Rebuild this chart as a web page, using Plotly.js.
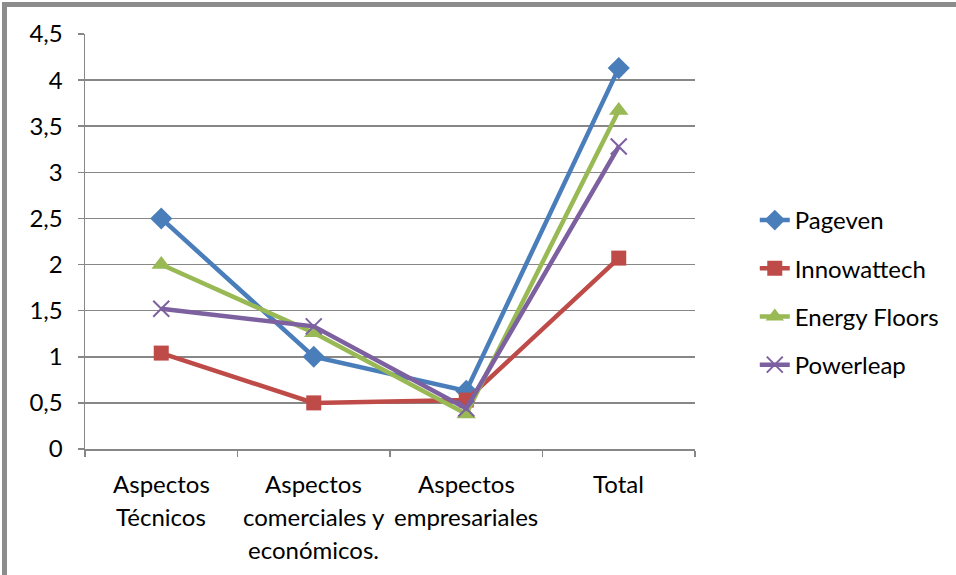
<!DOCTYPE html>
<html>
<head>
<meta charset="utf-8">
<script src="https://cdn.plot.ly/plotly-3.0.1.min.js"></script>
<style>
  html, body { margin:0; padding:0; width:956px; height:575px; overflow:hidden; background:#fff; }
  #frame { position:absolute; left:2px; top:2px; width:1100px; height:700px; border:5px solid #8c8c8c; box-sizing:border-box; }
  #chart { position:absolute; left:0; top:0; width:956px; height:575px; }
</style>
</head>
<body>
<div id="frame"></div>
<div id="chart"></div>
<script>
const categories = ["Aspectos Técnicos", "Aspectos comerciales y económicos.", "Aspectos empresariales", "Total"];
const categoryLines = [["Aspectos", "Técnicos"], ["Aspectos", "comerciales y", "económicos."], ["Aspectos", "empresariales"], ["Total"]];
const pageven = [2.5, 1.0, 0.63, 4.13];
const innowattech = [1.04, 0.5, 0.53, 2.07];
const energyFloors = [2.0, 1.26, 0.38, 3.67];
const powerleap = [1.52, 1.33, 0.44, 3.28];
const seriesNames = ["Pageven", "Innowattech", "Energy Floors", "Powerleap"];

const font = "Lato, 'Open Sans', 'Liberation Sans', sans-serif";
const styles = [
  {color:"#4a7ebb", symbol:"diamond", size:17, lw:0},
  {color:"#be4b48", symbol:"square", size:15, lw:0},
  {color:"#98b954", symbol:"triangle-up", size:17, lw:0},
  {color:"#7d60a0", symbol:"x-thin-open", size:16, lw:2}
];
const data = [pageven, innowattech, energyFloors, powerleap].map((vals, i) => ({
  type: "scatter", mode: "lines+markers",
  x: categories, y: vals, name: seriesNames[i], legendgroup: "g" + i,
  line: {color: styles[i].color, width: 4.5},
  marker: {symbol: styles[i].symbol, size: styles[i].size, color: styles[i].color,
           line: {color: styles[i].color, width: styles[i].lw}}
}));

const annotations = [];
categoryLines.forEach((lines, ci) => {
  lines.forEach((t, li) => {
    annotations.push({x: categories[ci], y: 0, xref: "x", yref: "paper", yanchor: "middle",
      yshift: -34 - li * 33, text: t, showarrow: false, font: {family: font, size: 24, color: "#000"}});
  });
});

const layout = {
  width: 956, height: 575,
  margin: {l: 85, r: 259, t: 34, b: 126},
  paper_bgcolor: "rgba(0,0,0,0)", plot_bgcolor: "rgba(0,0,0,0)",
  separators: ", ",
  font: {family: font, size: 24, color: "#000"},
  showlegend: true,
  legend: {x: 1.098, xanchor: "left", y: 0.605, yanchor: "top", tracegroupgap: 14,
           font: {family: font, size: 24, color: "#000"}, bgcolor: "rgba(0,0,0,0)"},
  xaxis: {type: "category", range: [-0.5, 3.5], showticklabels: false, ticks: "outside", ticklen: 6,
          tickcolor: "#878787", tickwidth: 1.5, tickson: "boundaries", showgrid: false, showline: true,
          linecolor: "#878787", linewidth: 1.5, zeroline: false, fixedrange: true},
  yaxis: {range: [0, 4.5], dtick: 0.5, tick0: 0, ticks: "outside", ticklen: 6, tickcolor: "#878787",
          tickwidth: 1.5, showgrid: true, gridcolor: "#878787", gridwidth: 1.5, showline: true,
          linecolor: "#878787", linewidth: 1.5, zeroline: false, ticklabelstandoff: 10,
          tickfont: {family: font, size: 24, color: "#000"}},
  annotations: annotations
};
Plotly.newPlot("chart", data, layout, {displayModeBar: false, staticPlot: true});
</script>
</body>
</html>
